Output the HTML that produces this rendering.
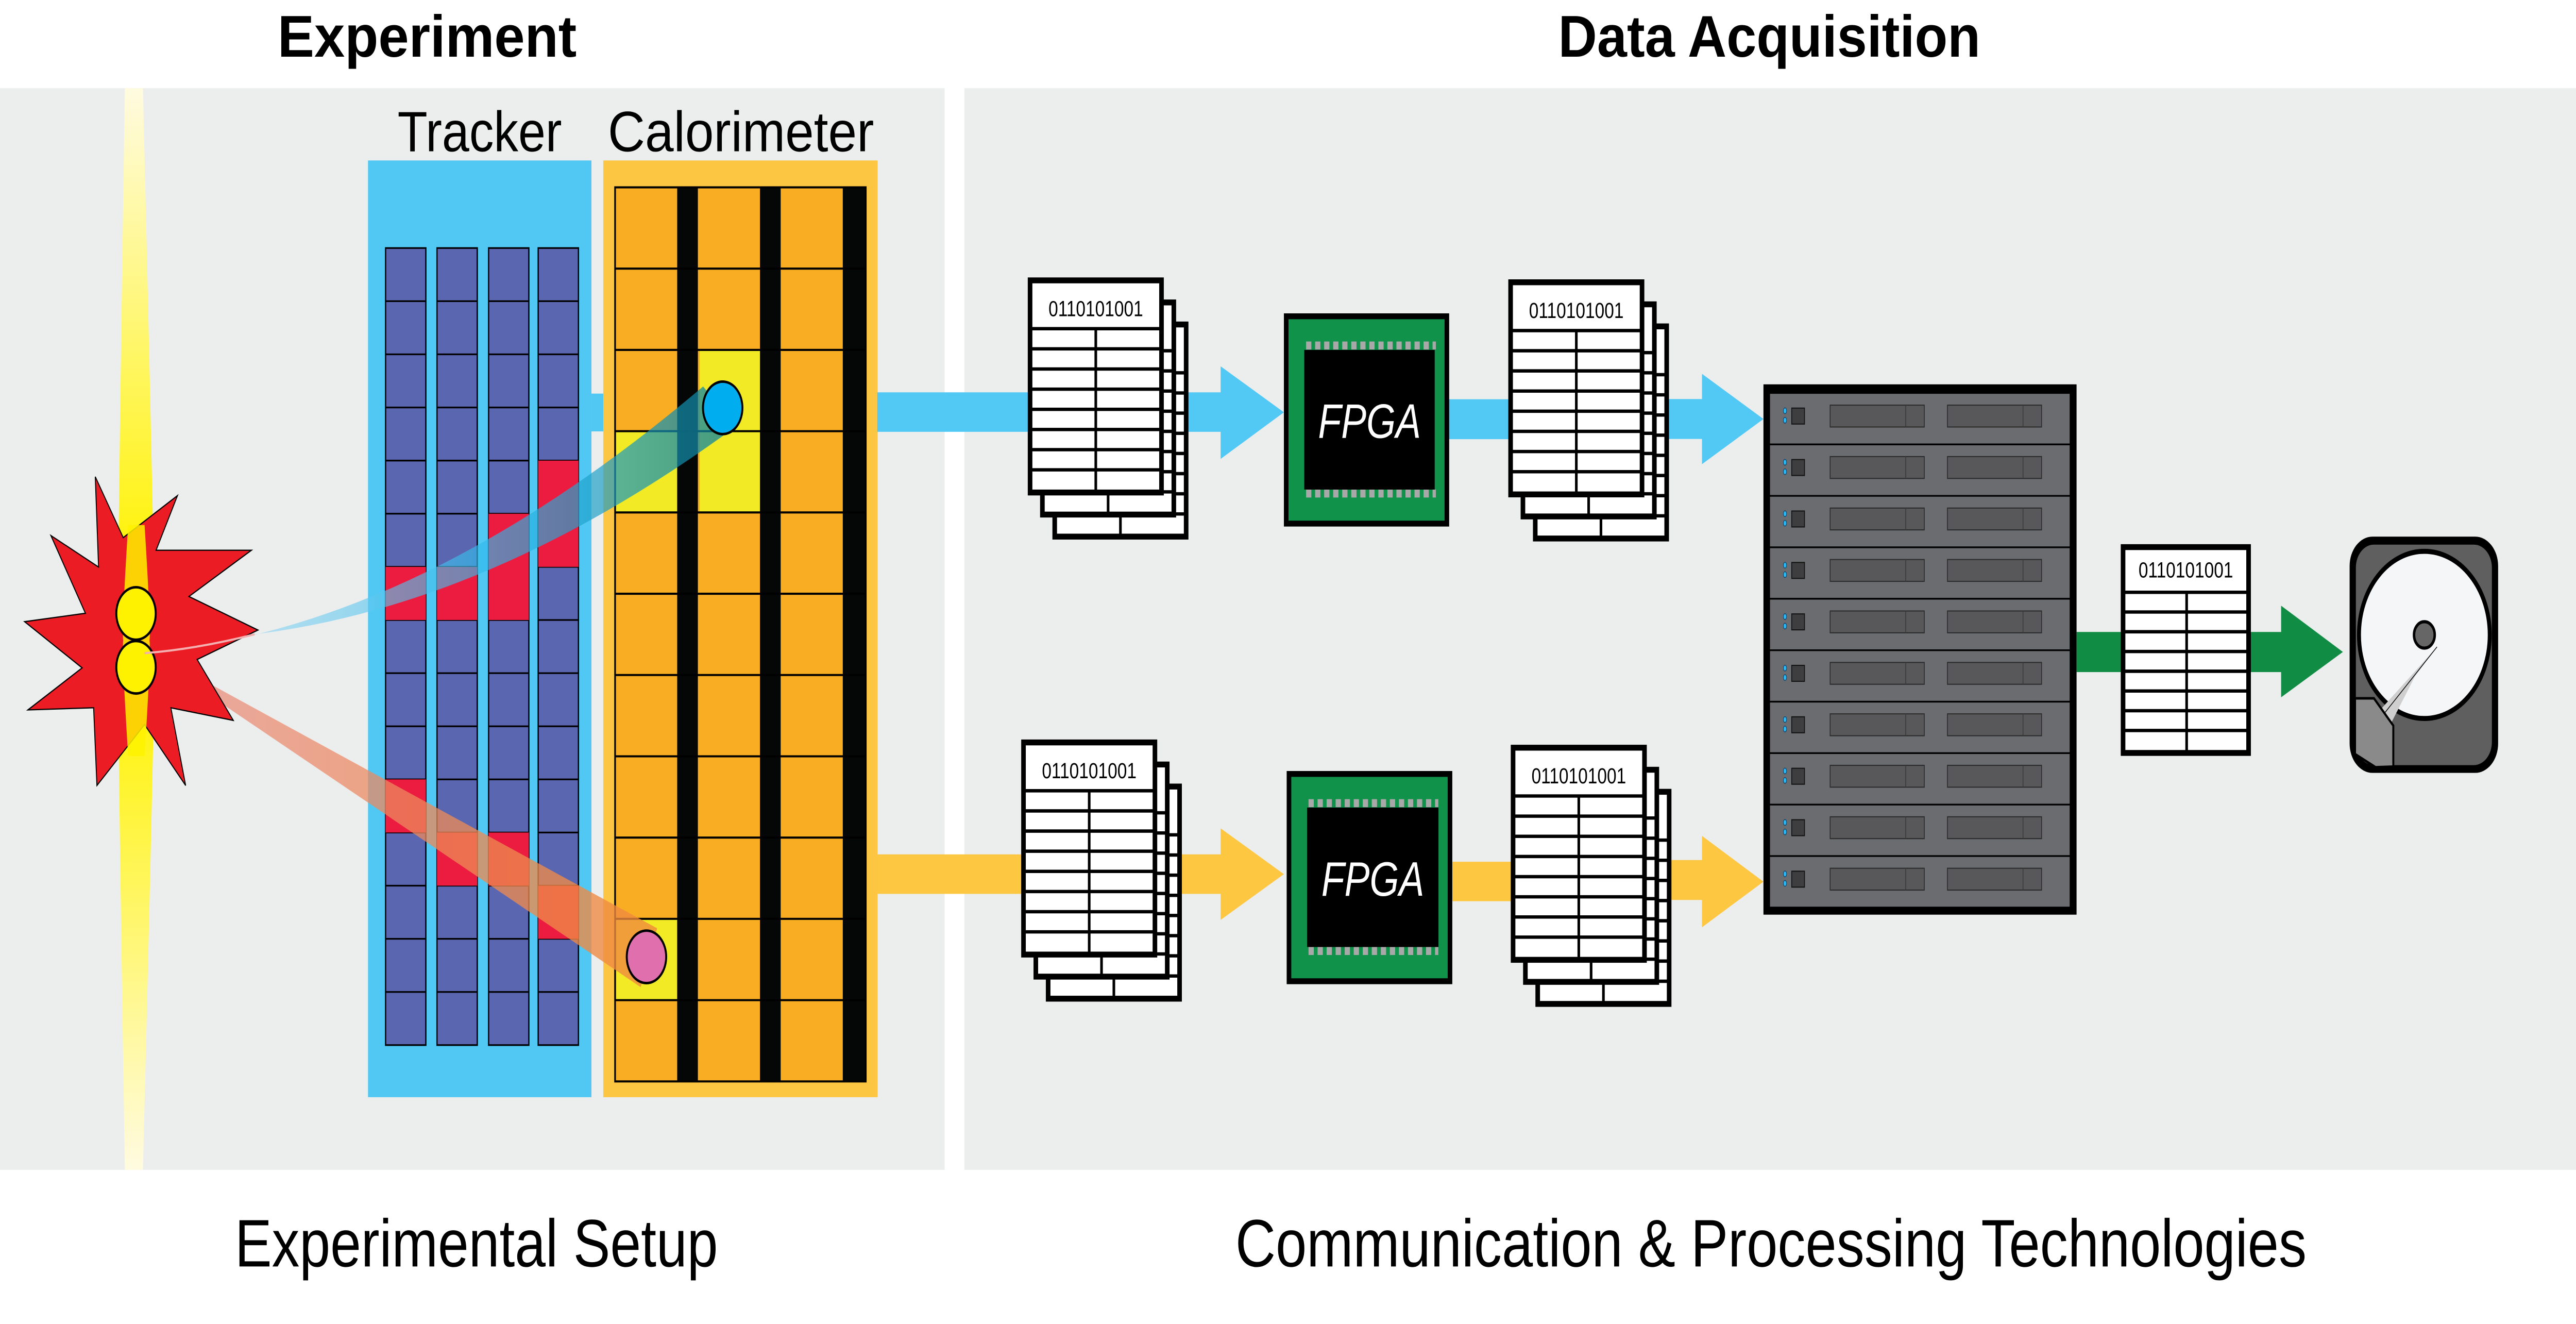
<!DOCTYPE html>
<html><head><meta charset="utf-8"><style>html,body{margin:0;padding:0;background:#fff;overflow:hidden;width:100%;height:100%}svg{display:block;position:absolute;left:0;top:0;width:100vw;height:100vh}</style></head>
<body>
<svg xmlns="http://www.w3.org/2000/svg" xmlns:xlink="http://www.w3.org/1999/xlink" viewBox="0 0 1568 630.4" preserveAspectRatio="none">
<defs>
<linearGradient id="beam" x1="0" y1="0" x2="0" y2="1">
<stop offset="0" stop-color="#fffbe0"/><stop offset="0.45" stop-color="#fff200"/><stop offset="0.55" stop-color="#fff200"/><stop offset="1" stop-color="#fffbe0"/></linearGradient>
<linearGradient id="btrack" x1="0" y1="0" x2="1" y2="0">
<stop offset="0" stop-color="#bfe4f6" stop-opacity="0.6"/><stop offset="0.6" stop-color="#2cb8ea" stop-opacity="0.65"/><stop offset="1" stop-color="#0a7f98" stop-opacity="0.75"/></linearGradient>
<linearGradient id="rtrack" x1="0" y1="0" x2="1" y2="0">
<stop offset="0" stop-color="#e98a7c" stop-opacity="0.7"/><stop offset="1" stop-color="#f08a3a" stop-opacity="0.8"/></linearGradient>
<g id="tcol">
<rect x="0" y="118.1" width="24.5" height="379.5" fill="#5a67b0" stroke="#000" stroke-width="0.8"/>
<path d="M0 143.4h24.5M0 168.7h24.5M0 194h24.5M0 219.3h24.5M0 244.6h24.5M0 269.9h24.5M0 295.2h24.5M0 320.5h24.5M0 345.8h24.5M0 371.1h24.5M0 396.4h24.5M0 421.7h24.5M0 447h24.5M0 472.3h24.5" stroke="#000" stroke-width="0.8"/>
</g>
<g id="sheet">
<rect x="0" y="0" width="80" height="101" fill="#fff" stroke="#000" stroke-width="2.8"/>
<path d="M0 23h80M0 32.6h80M0 42.2h80M0 51.8h80M0 61.4h80M0 71h80M0 80.6h80M0 90.2h80M40 23v78" stroke="#000" stroke-width="1.6"/>
</g>
<g id="doc">
<use xlink:href="#sheet" transform="translate(15,21)"/>
<use xlink:href="#sheet" transform="translate(7.5,10.5)"/>
<use xlink:href="#sheet"/>
</g>
<g id="unit">
<rect x="1077" y="0" width="183.2" height="24.5" fill="#6b6c70" stroke="#000" stroke-width="0.8"/>
<ellipse cx="1086.5" cy="8.5" rx="1" ry="1.4" fill="#2ab4f0" stroke="#0a3a60" stroke-width="0.3"/>
<ellipse cx="1086.5" cy="13" rx="1" ry="1.4" fill="#2ab4f0" stroke="#0a3a60" stroke-width="0.3"/>
<rect x="1090.6" y="7.2" width="7.8" height="7.6" fill="#3e3e40" stroke="#111" stroke-width="0.5"/>
<rect x="1114" y="5.8" width="57.3" height="10.4" fill="#58585a" stroke="#2a2a2a" stroke-width="0.5"/>
<line x1="1160" y1="5.8" x2="1160" y2="16.2" stroke="#3a3a3a" stroke-width="0.5"/>
<rect x="1185.4" y="5.8" width="57.3" height="10.4" fill="#58585a" stroke="#2a2a2a" stroke-width="0.5"/>
<line x1="1231.4" y1="5.8" x2="1231.4" y2="16.2" stroke="#3a3a3a" stroke-width="0.5"/>
</g>
<g id="pins">
<path d="M0 0h79" stroke="#a8a8a8" stroke-width="3.8" stroke-dasharray="3.2 2.3"/>
</g>
</defs>

<rect width="1568" height="630.4" fill="#fff"/>
<rect x="0" y="42" width="575" height="515" fill="#eceded"/>
<rect x="587" y="42" width="981" height="515" fill="#eceded"/>

<g font-family="Liberation Sans, sans-serif" fill="#000">
<text x="260" y="27" font-size="28" font-weight="bold" text-anchor="middle" textLength="182" lengthAdjust="spacingAndGlyphs">Experiment</text>
<text x="1077" y="27" font-size="28" font-weight="bold" text-anchor="middle" textLength="257" lengthAdjust="spacingAndGlyphs">Data Acquisition</text>
<text x="290" y="603" font-size="32" text-anchor="middle" textLength="294" lengthAdjust="spacingAndGlyphs">Experimental Setup</text>
<text x="1078" y="603" font-size="32" text-anchor="middle" textLength="652" lengthAdjust="spacingAndGlyphs">Communication &amp; Processing Technologies</text>
<text x="292" y="72" font-size="27" text-anchor="middle" textLength="100" lengthAdjust="spacingAndGlyphs">Tracker</text>
<text x="451" y="72" font-size="27" text-anchor="middle" textLength="162" lengthAdjust="spacingAndGlyphs">Calorimeter</text>
</g>

<path d="M76 42 L87 42 Q95 300 94 305 Q95 310 87 557 L76 557 Q71 310 72 305 Q71 300 76 42 Z" fill="url(#beam)"/>

<rect x="224" y="76.4" width="136" height="446" fill="#50c8f3"/>
<use xlink:href="#tcol" transform="translate(234.7,0)"/>
<use xlink:href="#tcol" transform="translate(266,0)"/>
<use xlink:href="#tcol" transform="translate(297.4,0)"/>
<use xlink:href="#tcol" transform="translate(327.6,0)"/>
<g fill="#eb1c40">
<rect x="327.6" y="219.3" width="24.5" height="50.6"/>
<rect x="297.4" y="244.6" width="24.5" height="50.6"/>
<rect x="234.7" y="269.9" width="24.5" height="25.3"/>
<rect x="266" y="269.9" width="24.5" height="25.3"/>
<rect x="234.7" y="371.1" width="24.5" height="25.3"/>
<rect x="266" y="396.4" width="24.5" height="25.3"/>
<rect x="297.4" y="396.4" width="24.5" height="25.3"/>
<rect x="327.6" y="421.7" width="24.5" height="25.3"/>
</g>
<rect x="360" y="187.4" width="7.5" height="18" fill="#50c8f3"/>

<rect x="367.2" y="76.4" width="167" height="446" fill="#fdc642"/>
<rect x="374.4" y="89.2" width="152.6" height="425.7" fill="#f8ad22"/>
<g fill="#f2ea25">
<rect x="425.9" y="166.6" width="36.7" height="77.4"/>
<rect x="375.1" y="205.3" width="37.1" height="38.7"/>
<rect x="375.1" y="437.5" width="37.1" height="38.7"/>
</g>
<g fill="#050707">
<rect x="412.2" y="89.2" width="12.6" height="425.7"/>
<rect x="462.6" y="89.2" width="12.6" height="425.7"/>
<rect x="513" y="89.2" width="13.6" height="425.7"/>
</g>
<path d="M374.4 127.9h152.6M374.4 166.6h152.6M374.4 205.3h152.6M374.4 244h152.6M374.4 282.7h152.6M374.4 321.4h152.6M374.4 360.1h152.6M374.4 398.8h152.6M374.4 437.5h152.6M374.4 476.2h152.6" stroke="#000" stroke-width="1"/>
<rect x="374.4" y="89.2" width="152.6" height="425.7" fill="none" stroke="#000" stroke-width="1"/>

<path d="M84 311 Q250 302 428 184 L448 203 Q300 288 155 302 Q120 306 84 311 Z" fill="url(#btrack)"/>
<path d="M110 318 L118 326 L390 470 L400 442 Z" fill="url(#rtrack)"/>

<polygon points="58,227 75,256 108,236 95,262 153,262 115,284 157,300 120,314 142,343 104,337 113,374 88,345 59,374 57,337 17,338 50,318 15,296 52,292 31,255 60,270" fill="#ec1c24" stroke="#000" stroke-width="0.6"/>
<path d="M78 250 L88 250 Q92 300 91 305 Q92 310 88 360 L78 360 Q74 310 75 305 Q74 300 78 250 Z" fill="#fff200" opacity="0.85"/>
<ellipse cx="82.8" cy="292.1" rx="12" ry="12.5" fill="#fff200" stroke="#000" stroke-width="1.2"/>
<ellipse cx="82.8" cy="317.7" rx="12" ry="12.5" fill="#fff200" stroke="#000" stroke-width="1.2"/>
<path d="M88 311 Q120 309 155 302" stroke="#f4b0b0" stroke-width="1" fill="none"/>
<ellipse cx="439.9" cy="194.2" rx="12" ry="12.5" fill="#00aeef" stroke="#000" stroke-width="1.2"/>
<ellipse cx="393.5" cy="455.6" rx="12" ry="12.5" fill="#e070ad" stroke="#000" stroke-width="1.2"/>

<g fill="#52c8f4">
<rect x="534" y="186.8" width="210" height="18.8"/>
<polygon points="743,174.4 781.5,196.3 743,218.5"/>
<rect x="882" y="190.1" width="38" height="19"/>
<rect x="1013" y="190" width="24" height="19"/>
<polygon points="1036,178 1073.4,199.5 1036,221"/>
</g>
<g fill="#fdc742">
<rect x="534" y="406.8" width="210" height="18.8"/>
<polygon points="743,394.4 781.5,416.2 743,438"/>
<rect x="884" y="410.3" width="38" height="18.8"/>
<rect x="1014" y="409.5" width="23" height="19"/>
<polygon points="1036,398 1073.4,419.8 1036,441.5"/>
</g>

<use xlink:href="#doc" transform="translate(627,133.5)"/>
<use xlink:href="#doc" transform="translate(919.5,134.4)"/>
<use xlink:href="#doc" transform="translate(623,353.5)"/>
<use xlink:href="#doc" transform="translate(921,356)"/>
<g font-family="Liberation Sans, sans-serif" font-size="10.5" text-anchor="middle" fill="#000">
<text x="667" y="150.5">0110101001</text>
<text x="959.5" y="151.4">0110101001</text>
<text x="663" y="370.5">0110101001</text>
<text x="961" y="373">0110101001</text>
</g>

<rect x="782.9" y="150.6" width="97.8" height="98.7" fill="#10924a" stroke="#000" stroke-width="2.8"/>
<use xlink:href="#pins" transform="translate(795,164.5)"/>
<use xlink:href="#pins" transform="translate(795,235)"/>
<rect x="793.9" y="166.6" width="79.4" height="66.5" fill="#000"/>
<text x="833.6" y="208.5" font-family="Liberation Sans, sans-serif" font-size="23" font-style="italic" fill="#fff" text-anchor="middle">FPGA</text>
<rect x="784.6" y="368.5" width="98" height="98.7" fill="#10924a" stroke="#000" stroke-width="2.8"/>
<use xlink:href="#pins" transform="translate(796.5,382.4)"/>
<use xlink:href="#pins" transform="translate(796.5,452.8)"/>
<rect x="795.6" y="384.5" width="80" height="66.4" fill="#000"/>
<text x="835.6" y="426.5" font-family="Liberation Sans, sans-serif" font-size="23" font-style="italic" fill="#fff" text-anchor="middle">FPGA</text>

<rect x="1073.4" y="183" width="190.6" height="252.5" fill="#000"/>
<use xlink:href="#unit" transform="translate(0,187.1)"/>
<use xlink:href="#unit" transform="translate(0,211.6)"/>
<use xlink:href="#unit" transform="translate(0,236.1)"/>
<use xlink:href="#unit" transform="translate(0,260.6)"/>
<use xlink:href="#unit" transform="translate(0,285.1)"/>
<use xlink:href="#unit" transform="translate(0,309.6)"/>
<use xlink:href="#unit" transform="translate(0,334.1)"/>
<use xlink:href="#unit" transform="translate(0,358.6)"/>
<use xlink:href="#unit" transform="translate(0,383.1)"/>
<use xlink:href="#unit" transform="translate(0,407.6)"/>

<g fill="#118c45">
<rect x="1264" y="300.9" width="28" height="19.1"/>
<rect x="1369" y="300.9" width="20" height="19.1"/>
<polygon points="1388.5,288.4 1426.1,310.4 1388.5,332"/>
</g>
<rect x="1292.3" y="260.5" width="76.4" height="98" fill="#fff" stroke="#000" stroke-width="2.8"/>
<path d="M1292.3 282h76.4M1292.3 291.4h76.4M1292.3 300.8h76.4M1292.3 310.2h76.4M1292.3 319.6h76.4M1292.3 329h76.4M1292.3 338.4h76.4M1292.3 347.8h76.4M1331 282v76.5" stroke="#000" stroke-width="1.6"/>
<text x="1330.5" y="275" font-family="Liberation Sans, sans-serif" font-size="10.5" text-anchor="middle">0110101001</text>

<rect x="1430.2" y="255.5" width="90.4" height="112.5" rx="14" fill="#000"/>
<rect x="1434" y="259.3" width="82.8" height="105" rx="11" fill="#5f5f5f"/>
<circle cx="1475.7" cy="302.3" r="39.8" fill="#f5f6f8" stroke="#000" stroke-width="2.4"/>
<circle cx="1475.7" cy="302.3" r="6.3" fill="#666" stroke="#000" stroke-width="1.5"/>
<polygon points="1483.4,308 1450,337 1455,345 1470,322" fill="#cfcfcf"/>
<line x1="1483.4" y1="308" x2="1451" y2="340" stroke="#000" stroke-width="0.4"/>
<polygon points="1433.5,332.5 1445,332.5 1456.8,345.5 1456.8,365 1446,365.3 1433.5,359" fill="#8a8a8a" stroke="#000" stroke-width="1.2"/>
</svg>
</body></html>
